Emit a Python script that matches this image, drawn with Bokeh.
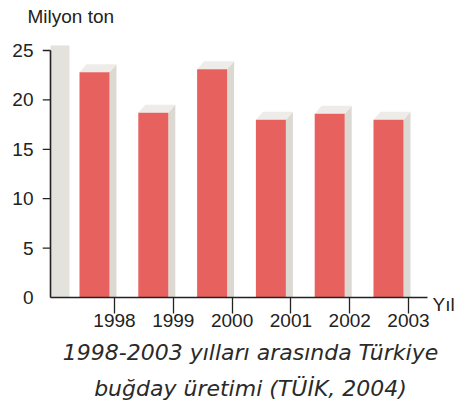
from bokeh.plotting import figure
from bokeh.models import Range1d, FixedTicker, Title
from bokeh.core.properties import value
from bokeh.embed import file_html
from bokeh.resources import INLINE

# ---- data ----
years = [1998, 1999, 2000, 2001, 2002, 2003]
production = [22.8, 18.7, 23.1, 18.0, 18.6, 18.0]   # milyon ton
y_ticks = [0, 5, 10, 15, 20, 25]
y_title = "Milyon ton"
x_title = "Yıl"
caption_lines = ["1998-2003 yılları arasında Türkiye", "buğday üretimi (TÜİK, 2004)"]

# ---- layout (pixels) ----
W, H = 458, 405
BL = 42
TOP_EXTRA = 20      # frame extends this far above the 25 line
BT = 50 - TOP_EXTRA
PPX = 58.8          # pixels per year
PPY = 9.88          # pixels per milyon ton
AX_OFF = 8          # y axis line sits this far right of the frame edge
FIRST_TICK = 72     # first x tick from frame left
BELOW = 16          # frame bottom below the zero line
Y_TOP = max(y_ticks)
FRAME_BOTTOM = 50 + int(round(Y_TOP * PPY)) + BELOW
BB = H - FRAME_BOTTOM

X0 = years[0] - FIRST_TICK / PPX
X1 = X0 + (W - BL) / PPX
Y0 = -BELOW / PPY
Y1 = Y_TOP + TOP_EXTRA / PPY


def dx(px):
    return px / PPX


def dy(px):
    return px / PPY


BAR = "#e7615e"
SIDE = "#dcd9d3"
TOPF = "#eeece8"
WALL = "#e4e2dd"
AX = "#222222"
TXT = "#222222"
FONT = "Liberation Sans"
CAP_FONT = "DejaVu Sans"

p = figure(width=W, height=H, x_range=Range1d(X0, X1), y_range=Range1d(Y0, Y1),
           output_backend="svg", toolbar_location=None,
           min_border_left=BL, min_border_right=0, min_border_top=BT, min_border_bottom=BB)
p.grid.visible = False
p.outline_line_color = None
p.background_fill_color = "white"
p.border_fill_color = "white"

xaxis_x = X0 + dx(AX_OFF)
x_end = years[-1] + dx(19)

# left wall (3D effect)
p.quad(left=[xaxis_x], right=[xaxis_x + dx(19)], bottom=[0], top=[Y_TOP + dy(5)],
       fill_color=WALL, line_color=None)

# bars with 3D side / top faces
off = dx(-20)
bw = dx(30)
ddx, ddy = dx(7), dy(8)
lefts = [y + off - bw / 2 for y in years]
rights = [y + off + bw / 2 for y in years]
side_xs = [[r, r, r + ddx, r + ddx] for r in rights]
side_ys = [[0, v, v + ddy, 0] for v in production]
top_xs = [[l, r, r + ddx, l + ddx] for l, r in zip(lefts, rights)]
top_ys = [[v, v, v + ddy, v + ddy] for v in production]
p.patches(side_xs, side_ys, fill_color=SIDE, line_color=None)
p.patches(top_xs, top_ys, fill_color=TOPF, line_color=None)
p.vbar(x=[y + off for y in years], width=bw, top=production, bottom=0,
       fill_color=BAR, line_color=None)

# axis lines and y tick marks
p.segment(x0=[xaxis_x, xaxis_x], y0=[0, 0], x1=[xaxis_x, x_end], y1=[Y_TOP, 0],
          line_color=AX, line_width=1.6)
tick_vals = [t for t in y_ticks if t != 0]
p.segment(x0=[X0] * len(tick_vals), y0=tick_vals, x1=[xaxis_x] * len(tick_vals), y1=tick_vals,
          line_color=AX, line_width=1.3)

# x axis: ticks drawn up from frame bottom to the zero line
xa = p.xaxis[0]
xa.ticker = FixedTicker(ticks=years)
xa.minor_tick_line_color = None
xa.major_tick_in = BELOW
xa.major_tick_out = 0
xa.major_label_standoff = 0
xa.axis_line_color = None
xa.major_tick_line_color = AX
xa.major_tick_line_width = 1.3
xa.major_label_text_font = FONT
xa.major_label_text_font_size = "19px"
xa.major_label_text_color = TXT

ya = p.yaxis[0]
ya.ticker = FixedTicker(ticks=y_ticks)
ya.minor_tick_line_color = None
ya.major_tick_in = 0
ya.major_tick_out = 0
ya.major_tick_line_color = None
ya.major_label_standoff = 9
ya.axis_line_color = None
ya.major_label_text_font = FONT
ya.major_label_text_font_size = "19px"
ya.major_label_text_color = TXT

# "Yıl" at right end of the x axis
p.text(x=[years[-1] + dx(24)], y=[-dy(7)], text=[x_title], text_align="left",
       text_baseline="middle", text_font=value(FONT), text_font_size="19px",
       text_color=TXT)

# "Milyon ton" above
p.add_layout(Title(text=y_title, align="left", offset=-15, standoff=7,
                   text_font=FONT, text_font_size="19px", text_font_style="normal",
                   text_color=TXT), "above")
# caption below
for i, line in enumerate(caption_lines):
    p.add_layout(Title(text=line, align="center", offset=-12, standoff=(17 if i == 0 else 0),
                       text_font=CAP_FONT, text_font_size="22px", text_font_style="italic",
                       text_line_height=1.0, text_color="#2a2a2a"), "below")

open("out.html", "w").write(file_html(p, INLINE))
